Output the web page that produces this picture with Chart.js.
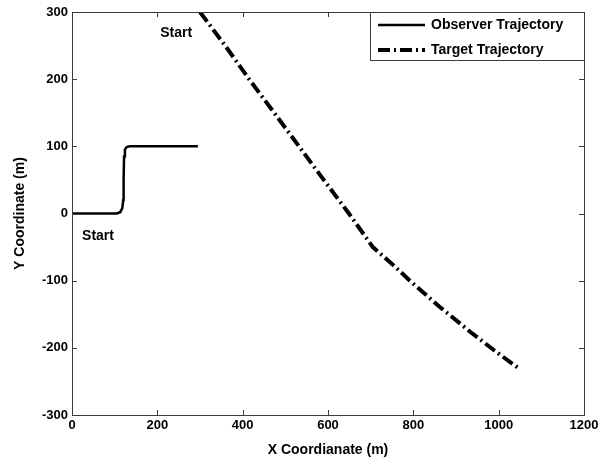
<!DOCTYPE html>
<html>
<head>
<meta charset="utf-8">
<script src="https://cdn.jsdelivr.net/npm/chart.js@4/dist/chart.umd.min.js"></script>
<style>
  body { margin: 0; background: #fff; }
  #wrap { width: 609px; height: 460px; }
</style>
</head>
<body>
<div id="wrap"><canvas id="traj-chart"></canvas></div>
<script>
// observer path
var observerX = [0, 105, 113, 118, 120, 121, 122, 124, 128, 135, 295];
var observerY = [0, 0, 2, 8, 20, 50, 85, 95, 99, 100, 100];
// target path
var targetX = [300, 360, 415, 475, 532, 590, 649, 705, 750, 792, 860, 933, 990, 1050];
var targetY = [300, 249, 200, 149, 100, 50, 0, -50, -75, -100, -138, -176, -204, -232];
var xTicks = [0, 200, 400, 600, 800, 1000, 1200];
var yTicks = [-300, -200, -100, 0, 100, 200, 300];
var startLabels = [{ text: 'Start', x: 244, y: 269 }, { text: 'Start', x: 61, y: -34 }];

var axisColor = '#3c3c3c';
var fontFam = "'Liberation Sans', Arial, sans-serif";

function toPoints(xs, ys) {
    var out = [];
    for (var i = 0; i < xs.length; i++) out.push({ x: xs[i], y: ys[i] });
    return out;
}

// frame, inside ticks, Start labels and the boxed legend
var decorPlugin = {
    id: 'decor',
    afterDatasetsDraw: function (chart) {
        var ctx = chart.ctx, a = chart.chartArea;
        var sx = chart.scales.x, sy = chart.scales.y;
        ctx.save();
        ctx.strokeStyle = axisColor;
        ctx.lineWidth = 1;
        ctx.strokeRect(a.left + 0.5, a.top + 0.5, a.right - a.left, a.bottom - a.top);
        ctx.beginPath();
        xTicks.forEach(function (v) {
            var p = Math.round(sx.getPixelForValue(v)) + 0.5;
            ctx.moveTo(p, a.bottom); ctx.lineTo(p, a.bottom - 5);
            ctx.moveTo(p, a.top); ctx.lineTo(p, a.top + 5);
        });
        yTicks.forEach(function (v) {
            var p = Math.round(sy.getPixelForValue(v)) + 0.5;
            ctx.moveTo(a.left, p); ctx.lineTo(a.left + 5, p);
            ctx.moveTo(a.right, p); ctx.lineTo(a.right - 5, p);
        });
        ctx.stroke();

        ctx.fillStyle = '#000';
        ctx.font = 'bold 14px ' + fontFam;
        ctx.textAlign = 'center';
        ctx.textBaseline = 'middle';
        startLabels.forEach(function (l) {
            ctx.fillText(l.text, sx.getPixelForValue(l.x), sy.getPixelForValue(l.y));
        });

        // legend box
        var bx = 370, by = a.top, bw = a.right - bx, bh = 48;
        ctx.fillStyle = '#fff';
        ctx.fillRect(bx, by, bw, bh);
        ctx.strokeStyle = axisColor;
        ctx.lineWidth = 1;
        ctx.strokeRect(bx + 0.5, by + 0.5, bw, bh);
        chart.data.datasets.forEach(function (ds, i) {
            var ly = by + 13 + i * 25;
            ctx.strokeStyle = '#000';
            ctx.lineWidth = ds.borderWidth;
            ctx.setLineDash(ds.borderDash || []);
            ctx.beginPath();
            ctx.moveTo(378, ly); ctx.lineTo(425, ly);
            ctx.stroke();
            ctx.setLineDash([]);
            ctx.fillStyle = '#000';
            ctx.textAlign = 'left';
            ctx.fillText(ds.label, 431, ly);
        });
        ctx.restore();
    }
};

var tickFont = { family: fontFam, size: 13, weight: 'bold' };
var titleFont = { family: fontFam, size: 14, weight: 'bold' };

var config = {
    type: 'scatter',
    data: {
        datasets: [{
            label: 'Observer Trajectory',
            data: toPoints(observerX, observerY),
            showLine: true,
            borderColor: '#000',
            borderWidth: 2.5,
            pointRadius: 0,
            tension: 0
        }, {
            label: 'Target Trajectory',
            data: toPoints(targetX, targetY),
            showLine: true,
            borderColor: '#000',
            borderWidth: 4,
            borderDash: [12, 4, 2, 4],
            pointRadius: 0,
            tension: 0
        }]
    },
    options: {
        responsive: true,
        maintainAspectRatio: false,
        animation: false,
        layout: { padding: { left: 0, right: 25, top: 12, bottom: 0 } },
        plugins: { legend: { display: false }, tooltip: { enabled: false } },
        scales: {
            x: {
                type: 'linear', min: 0, max: 1200,
                afterBuildTicks: function (s) { s.ticks = xTicks.map(function (v) { return { value: v }; }); },
                afterFit: function (s) { s.height = 45; },
                grid: { display: false, tickLength: 0 },
                border: { display: false },
                ticks: { color: '#000', font: tickFont, padding: 3, maxRotation: 0, callback: function (v) { return String(v); } },
                title: { display: true, text: 'X Coordianate (m)', color: '#000', font: titleFont, padding: { top: 0, bottom: 1 } }
            },
            y: {
                type: 'linear', min: -300, max: 300,
                afterBuildTicks: function (s) { s.ticks = yTicks.map(function (v) { return { value: v }; }); },
                afterFit: function (s) { s.width = 72; },
                grid: { display: false, tickLength: 0 },
                border: { display: false },
                ticks: { color: '#000', font: tickFont, padding: 4, callback: function (v) { return String(v); } },
                title: { display: true, text: 'Y Coordinate (m)', color: '#000', font: titleFont, padding: { top: 12, bottom: 0 } }
            }
        }
    },
    plugins: [decorPlugin]
};

var myChart = new Chart(document.getElementById('traj-chart').getContext('2d'), config);
</script>
</body>
</html>
